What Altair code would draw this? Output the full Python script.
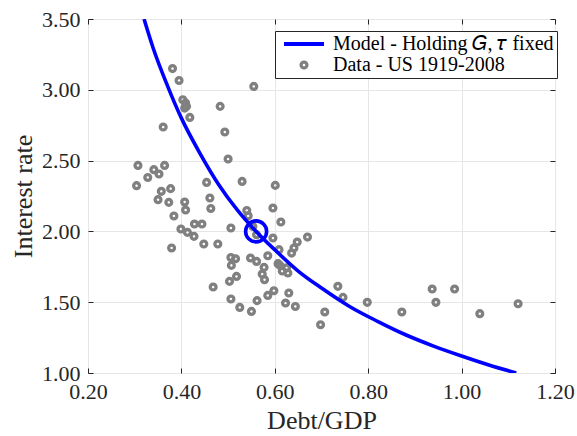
import altair as alt
import pandas as pd

# Observed debt/GDP and interest rate, US 1919-2008
debt = [0.381, 0.395, 0.403, 0.409, 0.411, 0.407, 0.418, 0.483, 0.361, 0.493,
        0.500, 0.307, 0.341, 0.364, 0.328, 0.352, 0.304, 0.454, 0.357, 0.377,
        0.350, 0.373, 0.461, 0.407, 0.409, 0.463, 0.384, 0.428, 0.444, 0.399,
        0.413, 0.427, 0.379, 0.448, 0.478, 0.506, 0.555, 0.530, 0.601, 0.540,
        0.596, 0.613, 0.553, 0.561, 0.596, 0.670, 0.648, 0.641, 0.636, 0.609,
        0.585, 0.506, 0.516, 0.548, 0.561, 0.507, 0.607, 0.625, 0.628, 0.577,
        0.573, 0.578, 0.518, 0.503, 0.735, 0.746, 0.598, 0.585, 0.630, 0.623,
        0.644, 0.506, 0.562, 0.525, 0.550, 0.707, 0.698, 0.468, 0.798, 0.872,
        0.937, 0.985, 0.945, 1.039, 1.121, 0.543, 0.611, 0.616]
rate = [3.150, 3.066, 2.930, 2.907, 2.883, 2.871, 2.805, 2.883, 2.737, 2.702,
        2.511, 2.466, 2.436, 2.466, 2.381, 2.405, 2.323, 2.346, 2.283, 2.302,
        2.224, 2.205, 2.236, 2.208, 2.151, 2.162, 2.109, 2.052, 2.052, 2.017,
        1.993, 1.965, 1.883, 1.911, 1.911, 2.024, 3.024, 2.353, 2.325, 2.148,
        2.165, 2.066, 2.035, 1.977, 1.953, 1.960, 1.925, 1.883, 1.847, 1.871,
        1.828, 1.816, 1.807, 1.812, 1.788, 1.760, 1.772, 1.742, 1.706, 1.746,
        1.699, 1.659, 1.682, 1.647, 1.612, 1.534, 1.581, 1.548, 1.565, 1.494,
        1.470, 1.523, 1.511, 1.463, 1.435, 1.431, 1.341, 1.607, 1.499, 1.431,
        1.593, 1.593, 1.499, 1.419, 1.489, 2.110, 1.760, 1.720]

# Model curve: interest rate holding G and tau fixed
curve_debt = [0.320, 0.340, 0.370, 0.400, 0.440, 0.480, 0.520, 0.560, 0.600,
              0.650, 0.700, 0.760, 0.820, 0.880, 0.940, 1.000, 1.060, 1.117]
curve_rate = [3.500, 3.290, 3.030, 2.800, 2.550, 2.330, 2.150, 2.000, 1.870,
              1.720, 1.600, 1.470, 1.365, 1.270, 1.190, 1.120, 1.055, 1.000]

# Model steady state
ss_debt = [0.560]
ss_rate = [2.000]

MODEL = "Model - Holding 𝐺, 𝜏 fixed"
DATA = "Data - US 1919-2008"

x_ticks = [0.2, 0.4, 0.6, 0.8, 1.0, 1.2]
y_ticks = [1.0, 1.5, 2.0, 2.5, 3.0, 3.5]

W, H = 467, 354
FONT = "Liberation Serif"
INK = "#262626"
GRID = "#e6e6e6"
BLUE = "#0000ff"
GREY = "#808080"

pts = pd.DataFrame({"debt": debt, "rate": rate, "series": DATA})
curve = pd.DataFrame({"debt": curve_debt, "rate": curve_rate, "series": MODEL})
ss = pd.DataFrame({"debt": ss_debt, "rate": ss_rate})

xscale = alt.Scale(domain=[0.2, 1.2], nice=False, zero=False)
yscale = alt.Scale(domain=[1.0, 3.5], nice=False, zero=False)
cscale = alt.Scale(domain=[MODEL, DATA], range=[BLUE, GREY])

# legend entries: a line for the model, a ring for the data
is_data = f"datum.value === '{DATA}'"
legend = alt.Legend(
    title=None, orient="none", legendX=187, legendY=12,
    fillColor="white", strokeColor=INK, padding=3, cornerRadius=0,
    labelFont=FONT, labelFontSize=20, labelColor="black", labelLimit=400,
    labelOffset=19, symbolOffset=16,
    symbolType=alt.ExprRef(expr=f"{is_data} ? 'circle' : 'stroke'"),
    symbolSize=alt.ExprRef(expr=f"{is_data} ? 34 : 1600"),
    symbolStrokeWidth=alt.ExprRef(expr=f"{is_data} ? 3.3 : 4"),
    symbolFillColor="transparent",
    symbolOpacity=1,
    rowPadding=1,
    clipHeight=20,
)


def main_axis(values, title, fmt):
    return alt.Axis(values=values, format=fmt, title=title, grid=True,
                    gridColor=GRID, gridWidth=1, ticks=False, domain=False,
                    labelFlush=False,
                    labelFont=FONT, labelFontSize=22, labelColor=INK,
                    labelPadding=8, titleFont=FONT, titleFontSize=26,
                    titleFontWeight="normal", titleColor=INK, titlePadding=5)


def tick_axis(values, orient, offset):
    return alt.Axis(values=values, orient=orient, offset=offset, labels=False,
                    title=None, grid=False, domain=False, ticks=True,
                    tickSize=5, tickColor=INK, tickWidth=1)


points = alt.Chart(pts).mark_point(
    filled=False, size=34, strokeWidth=3.3, opacity=1
).encode(
    x=alt.X("debt:Q", scale=xscale, axis=main_axis(x_ticks, "Debt/GDP", ".2f")),
    y=alt.Y("rate:Q", scale=yscale, axis=main_axis(y_ticks, "Interest rate", ".2f")),
    color=alt.Color("series:N", scale=cscale, legend=legend),
)

model = alt.Chart(curve).mark_line(
    strokeWidth=3.6, interpolate="monotone", clip=True
).encode(
    x=alt.X("debt:Q", scale=xscale, axis=tick_axis(x_ticks, "top", -H)),
    y=alt.Y("rate:Q", scale=yscale, axis=tick_axis(y_ticks, "right", -W)),
    color=alt.Color("series:N", scale=cscale, legend=legend),
)

steady = alt.Chart(ss).mark_point(
    filled=False, size=441, strokeWidth=3.6, color=BLUE, opacity=1
).encode(
    x=alt.X("debt:Q", scale=xscale, axis=tick_axis(x_ticks, "bottom", -H)),
    y=alt.Y("rate:Q", scale=yscale, axis=tick_axis(y_ticks, "left", -W)),
)

chart = alt.layer(points, model, steady).resolve_axis(
    x="independent", y="independent"
).properties(
    width=W, height=H,
    padding={"left": 88, "top": 19, "right": 22, "bottom": 63},
    autosize=alt.AutoSizeParams(type="none"),
    background="white",
).configure_view(
    stroke=INK, strokeWidth=1
).configure_legend(
    strokeWidth=1
)

chart.save("out.html", embed_options={"renderer": "svg", "actions": False})
